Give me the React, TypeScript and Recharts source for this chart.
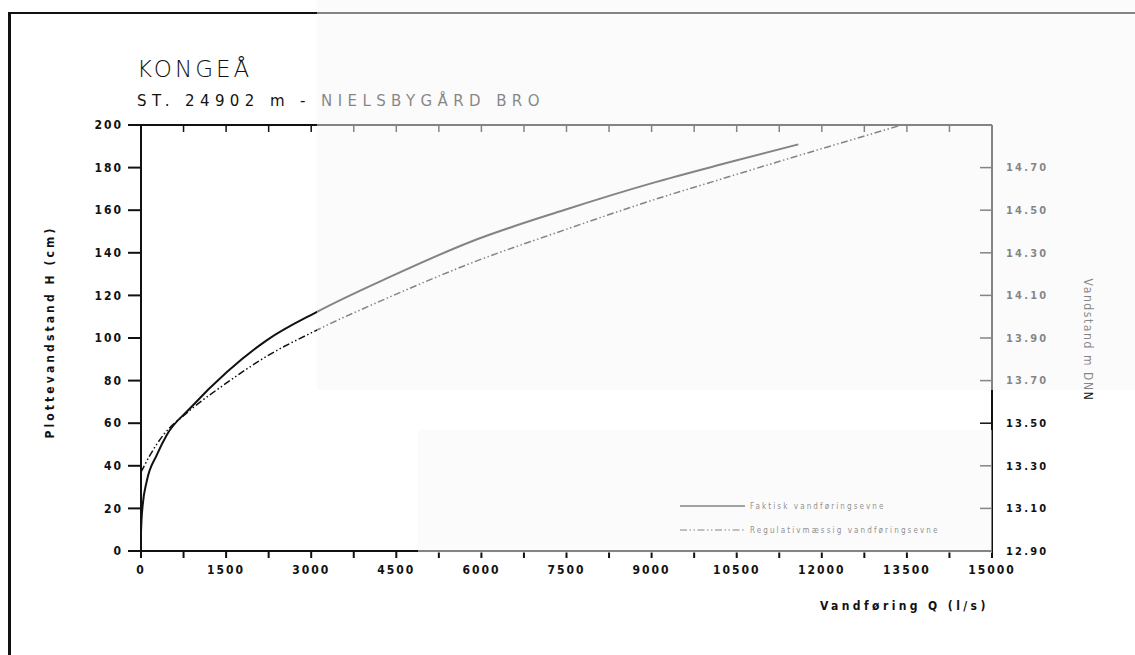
import React from 'react';
import { LineChart, Line, XAxis, YAxis, Legend } from 'recharts';

// Faktisk vandføringsevne (solid)
const faktiskQ = [0, 10, 30, 100, 277, 454, 866, 1514, 2221, 3104, 4398, 5812, 7461, 8993, 10300, 11586];
const faktiskH = [9, 15, 21.6, 32.6, 45, 54.5, 67, 84, 99, 112.3, 128.8, 145.2, 160.1, 172.6, 182, 190.9];

// Regulativmæssig vandføringsevne (dash-dot)
const regulativQ = [0, 159, 395, 807, 1514, 2221, 3045, 4398, 5812, 7461, 8993, 10300, 11586, 13410];
const regulativH = [37, 45, 54.5, 64.8, 79, 91.5, 103, 119.4, 135.1, 150.7, 164.5, 175.2, 185.6, 200];

const xTicks = [0, 750, 1500, 2250, 3000, 3750, 4500, 5250, 6000, 6750, 7500, 8250, 9000, 9750, 10500, 11250, 12000, 12750, 13500, 14250, 15000];
const leftTicks = [0, 20, 40, 60, 80, 100, 120, 140, 160, 180, 200];
const rightTicks = [12.9, 13.1, 13.3, 13.5, 13.7, 13.9, 14.1, 14.3, 14.5, 14.7];

const faktiskData = faktiskQ.map((q, i) => ({ q, h: faktiskH[i] }));
const regulativData = regulativQ.map((q, i) => ({ q, h: regulativH[i] }));

const FAKTISK = 'Faktisk vandføringsevne';
const REGULATIV = 'Regulativmæssig vandføringsevne';
const DASH = '7 2.5 1.5 2.5 1.5 2.5';

const tickFont = "'DejaVu Sans Condensed', 'DejaVu Sans', sans-serif";

const TopTick = (props: any) => {
  const { x, y } = props;
  return <line x1={x} y1={y} x2={x} y2={y + 7} stroke="#111" strokeWidth={1.5} />;
};

const RightTick = (props: any) => {
  const { x, y, payload } = props;
  return (
    <g>
      <line x1={x} y1={y} x2={x - 12} y2={y} stroke="#111" strokeWidth={1.5} />
      <text x={x + 14} y={y} dy="0.35em" fontSize={11} fontWeight="bold" letterSpacing={2.2}
        fontFamily={tickFont} fill="#111">
        {payload.value.toFixed(2)}
      </text>
    </g>
  );
};

const LegendBox = () => (
  <svg width={300} height={44}>
    <line x1={4} y1={10} x2={69} y2={10} stroke="#111" strokeWidth={1.5} />
    <text x={74} y={10} dy="0.35em" fontSize={8} letterSpacing={2.1} fontFamily="'DejaVu Sans Condensed', sans-serif" fill="#222">{FAKTISK}</text>
    <line x1={4} y1={34} x2={69} y2={34} stroke="#111" strokeWidth={1.2} strokeDasharray={DASH} />
    <text x={74} y={34} dy="0.35em" fontSize={8} letterSpacing={2.1} fontFamily="'DejaVu Sans Condensed', sans-serif" fill="#222">{REGULATIV}</text>
  </svg>
);

const shade = 'rgba(248,248,248,0.5)';

export default function App() {
  return (
    <div style={{ position: 'absolute', left: 0, top: 0, width: 1135, height: 655, background: '#fff', overflow: 'hidden' }}>
      <div style={{ position: 'absolute', left: 8, top: 12, width: 3, height: 643, background: '#111' }} />
      <div style={{ position: 'absolute', left: 8, top: 12, width: 1127, height: 2, background: '#111' }} />

      <div style={{ position: 'absolute', left: 137, top: 56, fontFamily: "'DejaVu Sans', sans-serif", fontWeight: 200, fontSize: 23, letterSpacing: 3, color: '#111' }}>
        KONGEÅ
      </div>
      <div style={{ position: 'absolute', left: 137, top: 92, fontFamily: "'DejaVu Sans', sans-serif", fontSize: 15, letterSpacing: 5.4, color: '#111', whiteSpace: 'pre' }}>
        ST. 24902 m - NIELSBYGÅRD BRO
      </div>

      <LineChart width={1135} height={655} margin={{ top: 120, right: 0, bottom: 74, left: 0 }} style={{ position: 'absolute', left: 0, top: 0 }}>
        <XAxis xAxisId="bottom" type="number" dataKey="q" domain={[0, 15000]} ticks={xTicks} interval={0}
          height={30} tickSize={7} tickMargin={7} stroke="#111" strokeWidth={2}
          tick={{ fontSize: 12, fontWeight: 'bold', fontFamily: tickFont, fill: '#111', letterSpacing: 2 }}
          tickFormatter={(v: number) => (v % 1500 === 0 ? String(v) : '')} allowDataOverflow />
        <XAxis xAxisId="top" orientation="top" type="number" dataKey="q" domain={[0, 15000]} ticks={xTicks} interval={0}
          height={5} tickSize={0} tickMargin={0} tickLine={false} stroke="#111" strokeWidth={2} tick={<TopTick />} allowDataOverflow />
        <YAxis yAxisId="left" type="number" domain={[0, 200]} ticks={leftTicks} interval={0} width={141}
          tickSize={13} tickMargin={5} stroke="#111" strokeWidth={2}
          tick={{ fontSize: 12, fontWeight: 'bold', fontFamily: tickFont, fill: '#111', letterSpacing: 2 }} allowDataOverflow />
        <YAxis yAxisId="right" orientation="right" type="number" domain={[12.9, 14.9]} ticks={rightTicks} interval={0} width={143}
          tickSize={0} tickMargin={0} tickLine={false} stroke="#111" strokeWidth={2} tick={<RightTick />} allowDataOverflow />
        <Line xAxisId="bottom" yAxisId="left" data={faktiskData} dataKey="h" name={FAKTISK} type="monotone"
          stroke="#111" strokeWidth={2} dot={false} isAnimationActive={false} />
        <Line xAxisId="bottom" yAxisId="left" data={regulativData} dataKey="h" name={REGULATIV} type="monotone"
          stroke="#111" strokeWidth={1.5} strokeDasharray={DASH} dot={false} isAnimationActive={false} />
        <Legend layout="vertical" verticalAlign="middle" align="center" content={<LegendBox />}
          wrapperStyle={{ left: 676, top: 496, width: 300, height: 44 }} />
      </LineChart>

      <div style={{ position: 'absolute', left: 50, top: 332, transform: 'translate(-50%, -50%) rotate(-90deg)', whiteSpace: 'pre',
        fontFamily: tickFont, fontWeight: 'bold', fontSize: 12, letterSpacing: 3.1, color: '#111' }}>
        Plottevandstand H (cm)
      </div>
      <div style={{ position: 'absolute', left: 1088, top: 340, transform: 'translate(-50%, -50%) rotate(90deg)', whiteSpace: 'pre',
        fontFamily: tickFont, fontSize: 12, letterSpacing: 1.6, color: '#111' }}>
        Vandstand m DNN
      </div>
      <div style={{ position: 'absolute', left: 820, top: 599, whiteSpace: 'pre',
        fontFamily: tickFont, fontWeight: 'bold', fontSize: 12, letterSpacing: 3.4, color: '#111' }}>
        Vandføring Q (l/s)
      </div>

      <div style={{ position: 'absolute', left: 317, top: 0, width: 818, height: 390, background: shade, pointerEvents: 'none' }} />
      <div style={{ position: 'absolute', left: 418, top: 430, width: 574, height: 123, background: shade, pointerEvents: 'none' }} />
    </div>
  );
}
